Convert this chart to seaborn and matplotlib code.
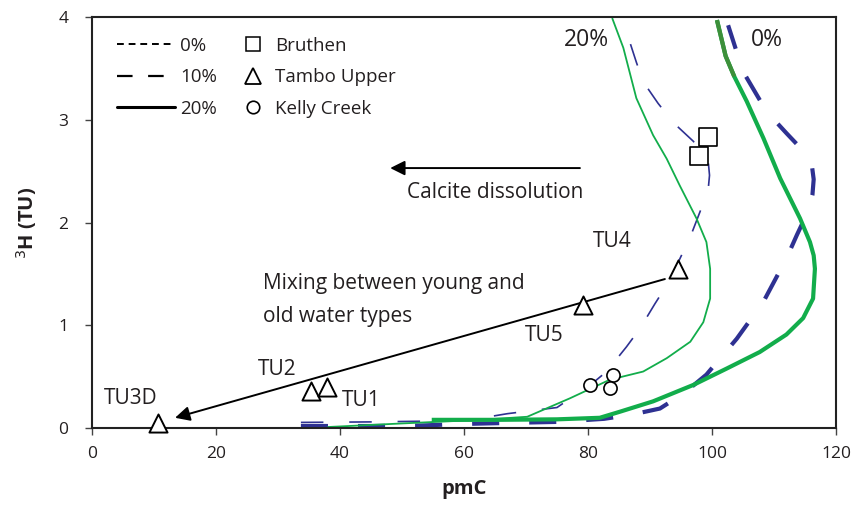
import matplotlib
matplotlib.use("Agg")
import matplotlib.pyplot as plt
import seaborn as sns
import pandas as pd
from matplotlib.lines import Line2D

# ---------------- data ----------------
# thick green curve (right, "0%")
g0_x = [54.8, 65.0, 75.0, 81.9, 85.2, 90.5, 97.0, 102.4, 107.7, 112.0, 114.7, 116.3, 116.6, 116.4, 115.8, 114.2, 111.0, 108.3, 105.6, 103.6, 102.2, 100.8]
g0_y = [0.08, 0.08, 0.085, 0.10, 0.16, 0.26, 0.42, 0.58, 0.74, 0.91, 1.07, 1.26, 1.55, 1.68, 1.81, 2.04, 2.43, 2.82, 3.18, 3.42, 3.62, 3.97]
# thin green curve (left, "20%")
g2_x = [38.0, 50.0, 62.6, 70.2, 77.1, 83.5, 88.9, 92.7, 96.5, 98.6, 99.7, 99.7, 99.1, 97.5, 94.8, 92.7, 90.5, 87.8, 85.7, 83.9]
g2_y = [0.01, 0.045, 0.08, 0.11, 0.29, 0.47, 0.55, 0.68, 0.84, 1.03, 1.26, 1.55, 1.81, 2.04, 2.36, 2.62, 2.85, 3.21, 3.70, 3.99]
# thick navy dashed curve
n0_x = [33.7, 45.0, 53.0, 60.0, 67.0, 75.0, 82.6, 87.0, 91.6, 95.5, 99.1, 104.0, 108.3, 112.0, 113.7, 115.5, 116.2, 116.4, 116.1, 115.3, 112.0, 108.8, 105.0, 102.6]
n0_y = [0.02, 0.02, 0.025, 0.04, 0.05, 0.06, 0.09, 0.13, 0.19, 0.34, 0.52, 0.87, 1.23, 1.65, 1.88, 2.11, 2.27, 2.42, 2.56, 2.66, 2.87, 3.08, 3.47, 3.92]
# thin navy dashed curve
n1_x = [33.7, 45.0, 55.0, 61.0, 67.0, 75.0, 80.8, 83.0, 86.2, 88.4, 90.8, 92.7, 94.6, 96.5, 98.1, 99.4, 99.6, 99.4, 97.0, 93.8, 91.3, 88.9, 87.8, 85.7]
n1_y = [0.055, 0.06, 0.068, 0.08, 0.14, 0.20, 0.44, 0.55, 0.79, 0.97, 1.21, 1.39, 1.62, 1.86, 2.11, 2.33, 2.46, 2.59, 2.79, 2.97, 3.16, 3.37, 3.56, 3.95]

bruthen_x = [99.4, 97.9]
bruthen_y = [2.83, 2.65]
tambo_x = [94.5, 79.2, 35.3, 37.9, 10.6]
tambo_y = [1.55, 1.20, 0.36, 0.40, 0.05]
tambo_labels = ["TU4", "TU5", "TU2", "TU1", "TU3D"]
kelly_x = [80.3, 84.0, 83.5]
kelly_y = [0.42, 0.52, 0.39]

x_ticks = [0, 20, 40, 60, 80, 100, 120]
y_ticks = [0, 1, 2, 3, 4]

# ---------------- style ----------------
sns.set_theme(style="ticks")
plt.rcParams["font.family"] = ["Open Sans", "DejaVu Sans"]

navy = "#2e3192"
green = "#12ad4b"
dark_green = "#3d8f3a"
txt = "#231f20"

fig = plt.figure(figsize=(8.57, 5.09), dpi=100)
ax = fig.add_axes([0.1073, 0.159, 0.8682, 0.8076])

def curve(xs, ys, dash=None, **kw):
    n = len(ax.lines)
    df = pd.DataFrame({"x": xs, "y": ys})
    sns.lineplot(data=df, x="x", y="y", sort=False, estimator=None, ax=ax, **kw)
    for ln in ax.lines[n:]:
        ln.set_solid_capstyle("butt")
        ln.set_solid_joinstyle("round")
        if dash is not None:
            ln.set_linestyle((0, dash))
            ln.set_dash_capstyle("butt")

curve(n1_x, n1_y, dash=(13.5, 15.5), color=navy, lw=1.2)
curve(n0_x, n0_y, dash=(6.5, 7.2), color=navy, lw=3.0)
curve(g2_x, g2_y, color=green, lw=1.3)
curve(g0_x, g0_y, color=green, lw=3.0)
top = [i for i, v in enumerate(g0_y) if v >= 3.42]
curve([g0_x[i] for i in top], [g0_y[i] for i in top], color=dark_green, lw=3.0)

sns.scatterplot(x=bruthen_x, y=bruthen_y, marker="s", s=170, facecolor="white",
                edgecolor="black", linewidth=1.2, ax=ax, zorder=5)
sns.scatterplot(x=tambo_x, y=tambo_y, marker="^", s=170, facecolor="white",
                edgecolor="black", linewidth=1.4, ax=ax, zorder=5, clip_on=False)
sns.scatterplot(x=kelly_x, y=kelly_y, marker="o", s=90, facecolor="white",
                edgecolor="black", linewidth=1.2, ax=ax, zorder=5)

# arrows
ax.annotate("", xy=(48.1, 2.53), xytext=(78.7, 2.53),
            arrowprops=dict(arrowstyle="-|>", color="black", lw=1.4, mutation_scale=22,
                            shrinkA=0, shrinkB=0), zorder=4)
ax.annotate("", xy=(13.4, 0.10), xytext=(92.4, 1.45),
            arrowprops=dict(arrowstyle="-|>", color="black", lw=1.4, mutation_scale=22,
                            shrinkA=0, shrinkB=0), zorder=4)

# texts
tfs = 15
ax.text(50.8, 2.29, "Calcite dissolution", fontsize=tfs, va="center", ha="left", color=txt)
ax.text(27.6, 1.41, "Mixing between young and", fontsize=tfs, va="center", ha="left", color=txt)
ax.text(27.6, 1.09, "old water types", fontsize=tfs, va="center", ha="left", color=txt)
label_pos = {"TU4": (83.9, 1.82), "TU5": (73.0, 0.90), "TU2": (29.8, 0.57),
             "TU1": (43.5, 0.27), "TU3D": (6.3, 0.29)}
for lab in tambo_labels:
    px, py = label_pos[lab]
    ax.text(px, py, lab, fontsize=tfs, ha="center", va="center", color=txt)
ax.text(79.8, 3.78, "20%", fontsize=16.5, ha="center", va="center", color=txt)
ax.text(108.9, 3.78, "0%", fontsize=16.5, ha="center", va="center", color=txt)

# legends
lfs = 13.5
h_lines = [
    Line2D([], [], color="black", lw=1.4, dashes=(3.5, 2.5)),
    Line2D([], [], color="black", lw=1.6, dashes=(7, 7)),
    Line2D([], [], color="black", lw=2.2),
]
leg1 = ax.legend(h_lines, ["0%", "10%", "20%"], loc="upper left", frameon=False,
                 fontsize=lfs, handlelength=3.1, handletextpad=0.25, labelspacing=0.72,
                 borderpad=0, borderaxespad=0, bbox_to_anchor=(0.034, 0.952))
for t in leg1.get_texts():
    t.set_color(txt)
ax.add_artist(leg1)
h_marks = [
    Line2D([], [], marker="s", ls="none", mfc="white", mec="black", ms=10.5, mew=1.1),
    Line2D([], [], marker="^", ls="none", mfc="white", mec="black", ms=11, mew=1.3),
    Line2D([], [], marker="o", ls="none", mfc="white", mec="black", ms=9, mew=1.2),
]
leg2 = ax.legend(h_marks, ["Bruthen", "Tambo Upper", "Kelly Creek"], loc="upper left",
                 frameon=False, fontsize=lfs, handlelength=1.1, handletextpad=0.6,
                 labelspacing=0.72, borderpad=0, borderaxespad=0,
                 bbox_to_anchor=(0.203, 0.952))
for t in leg2.get_texts():
    t.set_color(txt)

ax.set_xlim(0, 120)
ax.set_ylim(0, 4)
ax.set_xticks(x_ticks)
ax.set_yticks(y_ticks)
ax.tick_params(direction="out", length=5, width=1, labelsize=12.5, colors="#444444",
               labelcolor=txt)
ax.tick_params(axis="x", pad=8)
ax.tick_params(axis="y", pad=12)
for s in ax.spines.values():
    s.set_color("#222222")
    s.set_linewidth(1.5)
ax.set_xlabel("pmC", fontsize=14.5, fontweight="bold", labelpad=12, color=txt)
ax.set_ylabel("$^{3}$H (TU)", fontsize=14.5, fontweight="bold", labelpad=14, color=txt)

fig.savefig("out.png", dpi=100)
